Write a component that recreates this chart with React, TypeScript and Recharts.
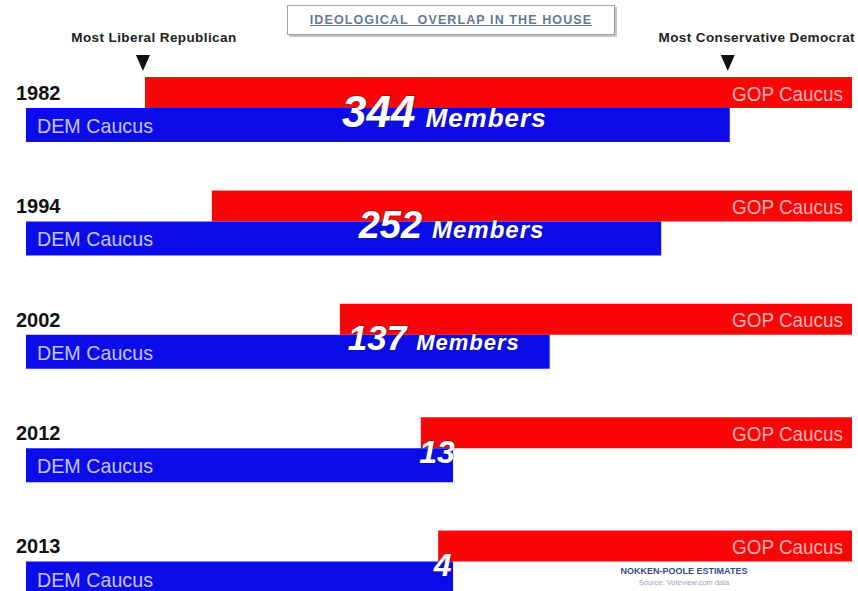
import React from 'react';
import { BarChart, Bar, XAxis, YAxis, LabelList, ReferenceLine } from 'recharts';

// ideological scale: 0 = left edge of the Democratic caucus, 100 = right edge of the GOP caucus
const years = ['1982', '1994', '2002', '2012', '2013'];
const gopStart = [14.4, 22.5, 38.0, 47.8, 49.9];
const gopEnd = [100, 100, 100, 100, 100];
const demStart = [0, 0, 0, 0, 0];
const demEnd = [85.2, 76.9, 63.4, 51.7, 51.7];
const overlapCounts = [344, 252, 137, 13, 4];
const overlapUnits = ['Members', 'Members', 'Members', '', ''];

const data = years.map((year, i) => ({
  year,
  gop: [gopStart[i], gopEnd[i]],
  dem: [demStart[i], demEnd[i]],
}));

const RED = '#fb0606';
const BLUE = '#0c0ceb';
const FONT = '"Liberation Sans", Arial, sans-serif';

// font sizes and horizontal nudges (px) of the overlap labels, row by row
const countSize = [44, 38, 35, 32, 32];
const unitSize = [26, 24, 22, 0, 0];
const labelNudge = [7, 15, -11, 0, -3];

const YearTick = (props: any) => {
  const { y, payload } = props;
  return (
    <text x={16} y={y - 10} fontSize={20} fontWeight="bold" fill="#111" fontFamily={FONT}>
      {payload.value}
    </text>
  );
};

const GopLabel = (props: any) => {
  const { x, y, width, height } = props;
  return (
    <text
      x={x + width - 9 - 111}
      y={y + height / 2 + 8}
      fontSize={21}
      fill="#f7b4b4"
      fontFamily={FONT}
      textLength={111}
      lengthAdjust="spacingAndGlyphs"
    >
      GOP Caucus
    </text>
  );
};

const DemLabel = (props: any) => {
  const { x, y, height } = props;
  return (
    <text
      x={x + 11}
      y={y + height / 2 + 8}
      fontSize={21}
      fill="#c4c4fb"
      fontFamily={FONT}
      textLength={116}
      lengthAdjust="spacingAndGlyphs"
    >
      DEM Caucus
    </text>
  );
};

// overlap count, centred on the part where both caucuses share the scale
const OverlapLabel = (props: any) => {
  const { x, y, width, index } = props;
  const i = index ?? 0;
  const perUnit = width / (demEnd[i] - demStart[i]);
  const mid = (gopStart[i] + demEnd[i]) / 2;
  const cx = x + (mid - demStart[i]) * perUnit + labelNudge[i];
  const base = y + countSize[i] * 0.36 + 3;
  return (
    <text
      x={cx}
      y={base}
      textAnchor="middle"
      fill="#fff"
      stroke="rgba(20,20,60,0.45)"
      strokeWidth={1.5}
      paintOrder="stroke"
      fontFamily={FONT}
      fontWeight="bold"
      fontStyle="italic"
    >
      <tspan fontSize={countSize[i]}>{overlapCounts[i]}</tspan>
      {overlapUnits[i] && (
        <tspan fontSize={unitSize[i]} dx={10} letterSpacing={1}>
          {overlapUnits[i]}
        </tspan>
      )}
    </text>
  );
};

const Marker = (props: any) => {
  const { viewBox, text, dx } = props;
  if (!viewBox) return null;
  const x = viewBox.x;
  const top = viewBox.y;
  return (
    <g>
      <text
        x={x + dx}
        y={top - 11}
        textAnchor="middle"
        fontSize={13.5}
        letterSpacing={0.4}
        fontWeight="bold"
        fill="#222"
        fontFamily={FONT}
      >
        {text}
      </text>
      <polygon
        points={`${x - 9},${top + 2} ${x + 5},${top + 2} ${x - 2},${top + 18}`}
        fill="#111"
      />
    </g>
  );
};

export default function App() {
  return (
    <div
      style={{
        position: 'absolute',
        left: 0,
        top: 0,
        width: 858,
        height: 591,
        overflow: 'hidden',
        background: '#fff',
        fontFamily: FONT,
      }}
    >
      <div
        style={{
          position: 'absolute',
          left: 287,
          top: 5,
          width: 326,
          height: 28,
          border: '1px solid #9aa0a8',
          boxShadow: '2px 2px 0 #c2c6cc',
          display: 'flex',
          alignItems: 'center',
          justifyContent: 'center',
          color: '#687792',
          fontSize: 12.5,
          fontWeight: 'bold',
          textDecoration: 'underline',
          letterSpacing: 1.1,
          whiteSpace: 'pre',
        }}
      >
        {'IDEOLOGICAL  OVERLAP IN THE HOUSE'}
      </div>

      <BarChart
        width={858}
        height={620}
        data={data}
        layout="vertical"
        barGap={0}
        margin={{ top: 53, right: 6, bottom: 0, left: 0 }}
      >
        <XAxis type="number" domain={[0, 100]} hide />
        <YAxis
          type="category"
          dataKey="year"
          width={26}
          axisLine={false}
          tickLine={false}
          tick={<YearTick />}
        />
        <ReferenceLine
          x={gopStart[0]}
          stroke="none"
          label={<Marker text="Most Liberal Republican" dx={9} />}
        />
        <ReferenceLine
          x={demEnd[0]}
          stroke="none"
          label={<Marker text="Most Conservative Democrat" dx={27} />}
        />
        <Bar dataKey="gop" fill={RED} barSize={31} isAnimationActive={false}>
          <LabelList dataKey="gop" content={<GopLabel />} />
        </Bar>
        <Bar dataKey="dem" fill={BLUE} barSize={34} isAnimationActive={false}>
          <LabelList dataKey="dem" content={<DemLabel />} />
          <LabelList dataKey="dem" content={<OverlapLabel />} />
        </Bar>
      </BarChart>

      <div
        style={{
          position: 'absolute',
          left: 604,
          top: 566,
          width: 160,
          textAlign: 'center',
          lineHeight: '11px',
        }}
      >
        <div style={{ fontSize: 9, fontWeight: 'bold', color: '#3d4a86' }}>NOKKEN-POOLE ESTIMATES</div>
        <div style={{ fontSize: 7.5, color: '#9aa3c4' }}>Source: Voteview.com data</div>
      </div>
    </div>
  );
}
